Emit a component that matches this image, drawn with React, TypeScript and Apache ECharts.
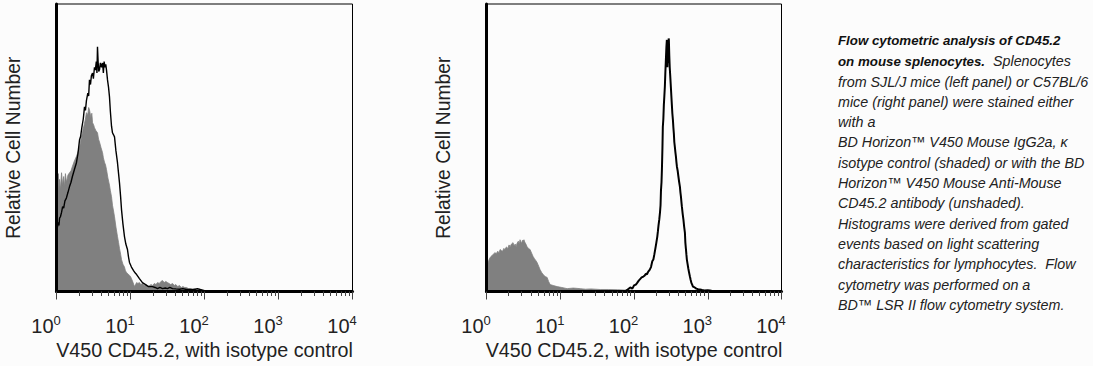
import React, { useEffect, useRef } from "react";
import * as echarts from "echarts";

// Fluorescence intensity (x) vs relative cell number (y, % of plot height)
const leftIsotype: [number, number][] = [
  [1.0, 34], [1.03, 36.5], [1.06, 41], [1.08, 36], [1.1, 39], [1.13, 35.5], [1.17, 41.3], [1.21, 37],
  [1.25, 40], [1.28, 36.5], [1.32, 41], [1.36, 38], [1.43, 40.5], [1.5, 41.3], [1.57, 42], [1.64, 43.5],
  [1.75, 45.5], [1.86, 47], [1.95, 48.5], [2.05, 50.3], [2.15, 53], [2.27, 56], [2.39, 58.5], [2.46, 60],
  [2.54, 62.2], [2.65, 61.5], [2.72, 64], [2.79, 63.2], [2.92, 60.5], [3.0, 62], [3.07, 58.7], [3.17, 58],
  [3.26, 57], [3.4, 56], [3.58, 55.2], [3.7, 53], [3.81, 52], [4.0, 50], [4.19, 48.3], [4.3, 46.5],
  [4.45, 45], [4.6, 44], [4.74, 42.4], [4.95, 39.5], [5.2, 37], [5.35, 35], [5.54, 33], [5.71, 30],
  [5.9, 28], [6.08, 26], [6.35, 22.5], [6.67, 19.1], [6.9, 17], [7.1, 15], [7.35, 13], [7.56, 11.1],
  [7.9, 9.5], [8.29, 8.5], [8.55, 7.2], [8.83, 6.6], [9.2, 6.2], [9.69, 5.6], [10.0, 5.2], [10.3, 4.5],
  [10.8, 3.2], [11.3, 1.7], [11.7, 2.4], [12.1, 3.1], [12.6, 2.8], [13.2, 3.1], [13.8, 2.4], [14.5, 2.8],
  [15.3, 2.1], [16.2, 2.4], [17.1, 1.7], [18.1, 2.1], [19.0, 2.4], [19.8, 2.1], [21.0, 2.8], [22.1, 2.4],
  [23.2, 3.1], [24.5, 2.8], [25.8, 3.5], [27.1, 3.8], [28.5, 3.1], [30.0, 3.5], [31.6, 3.1], [33.2, 2.8],
  [35.0, 2.4], [37.0, 2.8], [39.0, 2.1], [41.0, 2.4], [43.5, 1.7], [45.9, 2.1], [48.5, 1.4], [51.0, 1.7],
  [54.0, 1.4], [57.1, 1.4], [61.0, 1.0], [65.0, 1.0], [69.0, 0.7], [73.3, 1.0], [79.0, 0.7], [85.0, 0.7],
  [90.0, 0.5], [94.0, 0.5], [100, 0.3], [105, 0],
];

const leftCD45: [number, number][] = [
  [1.0, 21], [1.03, 22.5], [1.06, 24], [1.08, 23], [1.1, 25.5], [1.13, 26], [1.17, 27.5], [1.21, 29.5],
  [1.25, 29], [1.3, 31.5], [1.36, 32.5], [1.43, 34.5], [1.5, 36.5], [1.57, 38], [1.64, 40], [1.75, 42.5],
  [1.86, 44.8], [1.95, 48], [2.05, 52.8], [2.12, 54], [2.2, 57], [2.3, 60], [2.39, 64.2], [2.46, 63],
  [2.54, 66.5], [2.65, 69], [2.72, 68], [2.79, 73.6], [2.88, 72], [2.96, 75], [3.07, 76], [3.15, 74],
  [3.26, 78], [3.35, 77], [3.45, 80], [3.52, 76], [3.58, 85.1], [3.65, 80], [3.72, 76.5], [3.81, 77.1],
  [3.92, 79.5], [4.06, 78], [4.19, 79.5], [4.3, 76], [4.4, 80], [4.52, 78], [4.63, 79], [4.74, 77],
  [4.89, 73.6], [5.05, 71], [5.2, 67.7], [5.35, 62.5], [5.54, 57.5], [5.71, 55.2], [5.9, 54.5], [6.08, 53.8],
  [6.35, 49], [6.67, 44.8], [6.9, 41], [7.1, 37.8], [7.35, 33], [7.56, 28.5], [7.9, 23.5], [8.29, 19.1],
  [8.65, 16.5], [9.1, 14.6], [9.4, 12], [9.69, 10.1], [10.3, 8.5], [11.0, 7.3], [11.6, 6.4], [12.1, 5.9],
  [13.2, 4.5], [14.5, 3.1], [16.0, 2.4], [17.5, 1.7], [19.8, 1.7], [21.5, 1.4], [23.2, 1.0], [25.0, 1.4],
  [27.1, 1.0], [29.5, 1.2], [31.6, 1.0], [34.0, 1.4], [37.0, 1.0], [41.0, 0.9], [45.9, 0.8], [51.0, 1.0],
  [57.1, 0.7], [65.0, 0.7], [73.3, 0.7], [80.0, 1.0], [88.0, 0.7], [94.0, 0.5], [100, 0.3], [110, 0],
];

const rightIsotype: [number, number][] = [
  [1.0, 9.5], [1.05, 10.1], [1.1, 11.5], [1.15, 12.2], [1.22, 12.8], [1.3, 13.5], [1.36, 13.2], [1.42, 14],
  [1.48, 13.5], [1.53, 14.6], [1.6, 14.2], [1.65, 14], [1.72, 15], [1.78, 14.6], [1.86, 15.5], [1.95, 15],
  [2.02, 16.2], [2.09, 15.6], [2.18, 16.5], [2.29, 17], [2.37, 15.8], [2.45, 16.5], [2.52, 15.6], [2.6, 16.8],
  [2.7, 17.5], [2.78, 16.5], [2.85, 18], [2.93, 17.2], [3.0, 16.8], [3.07, 17.8], [3.13, 17.4], [3.22, 18],
  [3.3, 17.2], [3.42, 16.5], [3.55, 15.6], [3.7, 15], [3.9, 14.6], [4.08, 13.4], [4.28, 12.2], [4.45, 11.5],
  [4.6, 11], [4.85, 10.1], [5.1, 8.8], [5.33, 7.6], [5.6, 6.6], [5.86, 5.9], [6.25, 5.2], [6.64, 4.9],
  [6.95, 3.5], [7.29, 2.4], [8.0, 2.1], [9.08, 1.7], [10.5, 1.4], [12.4, 1.0], [15.0, 1.2], [18.6, 1.0],
  [22.0, 0.8], [26.0, 0.9], [34.8, 0.7], [45.0, 0.7], [60.0, 0.6], [75.0, 0.5], [89.0, 0.5], [105, 0.3],
  [120, 0],
];

const rightCD45: [number, number][] = [
  [1.0, 0], [75, 0], [82, 0.7], [89, 1.4], [95, 1.0], [100, 2.1], [106, 2.4], [111, 3.1], [116, 3.8],
  [120, 4.2], [127, 4.9], [134, 5.2], [140, 5.6], [145, 6.2], [150, 6.0], [156, 6.9], [163, 7.5], [170, 8.5],
  [177, 10.5], [183, 11.1], [189, 13], [195, 15], [201, 17], [207, 19.1], [211, 21], [215, 23], [220, 25],
  [225, 27.4], [229, 30], [232, 35], [236, 38], [239, 42.4], [243, 50], [246, 57.3], [250, 60], [254, 65],
  [258, 68], [262, 71.2], [266, 76], [270, 80], [275, 85], [279, 87.5], [281, 80], [283, 78], [286, 82],
  [288, 79.5], [292, 85], [295, 88], [297, 87.5], [301, 82], [305, 78], [310, 75], [316, 71.2], [321, 68],
  [326, 65], [331, 62], [337, 59.7], [342, 57], [347, 55], [352, 52], [358, 50.3], [364, 48.5], [370, 47],
  [376, 45], [382, 43.4], [391, 42], [400, 40], [410, 38], [419, 36.5], [426, 34.5], [433, 33], [440, 31],
  [446, 29.5], [457, 27], [468, 25], [479, 22.5], [490, 20.5], [497, 17], [505, 15], [513, 13], [521, 11.1],
  [533, 9.5], [545, 8], [559, 6.5], [573, 5.2], [587, 4], [600, 3], [615, 2.4], [630, 1.7], [665, 1.4],
  [700, 1.0], [740, 0.8], [783, 0.7], [840, 0.5], [900, 0.35], [1000, 0.4], [1072, 0.35], [1150, 0.2],
  [1200, 0],
];

const xAxisName = "V450 CD45.2, with isotype control";
const yAxisName = "Relative Cell Number";

const captionText = [
  "{b|Flow cytometric analysis of CD45.2}",
  "{b|on mouse splenocytes.}{i|  Splenocytes}",
  "{i|from SJL/J mice (left panel) or C57BL/6}",
  "{i|mice (right panel) were stained either}",
  "{i|with a}",
  "{i|BD Horizon™ V450 Mouse IgG2a, κ}",
  "{i|isotype control (shaded) or with the BD}",
  "{i|Horizon™ V450 Mouse Anti-Mouse}",
  "{i|CD45.2 antibody (unshaded).}",
  "{i|Histograms were derived from gated}",
  "{i|events based on light scattering}",
  "{i|characteristics for lymphocytes.  Flow}",
  "{i|cytometry was performed on a}",
  "{i|BD™ LSR II flow cytometry system.}",
];

const FONT = "'Liberation Sans', Arial, Helvetica, sans-serif";

export default function App() {
  const ref = useRef<HTMLDivElement>(null);

  useEffect(() => {
    if (!ref.current) return;
    const chart = echarts.init(ref.current, null, { renderer: "svg" });

    const mkX = (gridIndex: number) => ({
      type: "log",
      logBase: 10,
      min: 1,
      max: 10000,
      gridIndex,
      z: 10,
      name: xAxisName,
      nameLocation: "middle",
      nameGap: 48,
      nameTextStyle: { fontFamily: FONT, fontSize: 19.7, color: "#222" },
      axisLine: { show: true, onZero: false, lineStyle: { color: "#000", width: 3 } },
      axisTick: { show: true, length: 8, lineStyle: { color: "#444", width: 1 } },
      minorTick: { show: true, splitNumber: 9, length: 4.5, lineStyle: { color: "#444", width: 1 } },
      splitLine: { show: false },
      minorSplitLine: { show: false },
      axisLabel: {
        show: true,
        margin: 22,
        padding: [0, 21, 0, 0],
        formatter: (v: number) => `{b|10}{s|${Math.round(Math.log10(v))}}`,
        rich: {
          b: { fontFamily: FONT, fontSize: 20, color: "#222", lineHeight: 24 },
          s: { fontFamily: FONT, fontSize: 13, color: "#222", lineHeight: 12, verticalAlign: "top" },
        },
      },
    });

    const mkY = (gridIndex: number) => ({
      type: "value",
      min: 0,
      max: 100,
      gridIndex,
      z: 10,
      name: yAxisName,
      nameLocation: "middle",
      nameGap: 34,
      nameTextStyle: { fontFamily: FONT, fontSize: 19.3, color: "#222" },
      axisLine: { show: true, onZero: false, lineStyle: { color: "#000", width: 3 } },
      axisTick: { show: false },
      axisLabel: { show: false },
      splitLine: { show: false },
    });

    const shaded = (data: [number, number][], idx: number) => ({
      type: "line",
      xAxisIndex: idx,
      yAxisIndex: idx,
      data,
      showSymbol: false,
      symbol: "none",
      lineStyle: { color: "#808080", width: 0.8 },
      areaStyle: { color: "#808080", opacity: 1 },
      z: 2,
    });

    const outline = (data: [number, number][], idx: number, width: number) => ({
      type: "line",
      xAxisIndex: idx,
      yAxisIndex: idx,
      data,
      showSymbol: false,
      symbol: "none",
      lineStyle: { color: "#000", width },
      z: 3,
    });

    chart.setOption({
      animation: false,
      backgroundColor: "transparent",
      grid: [
        { left: 56.5, top: 4, width: 296, height: 287.5, show: true, borderColor: "#000", borderWidth: 1, containLabel: false },
        { left: 486.5, top: 4, width: 295, height: 287.5, show: true, borderColor: "#000", borderWidth: 1, containLabel: false },
      ],
      xAxis: [mkX(0), mkX(1)],
      yAxis: [mkY(0), mkY(1)],
      series: [
        shaded(leftIsotype, 0),
        outline(leftCD45, 0, 1.4),
        shaded(rightIsotype, 1),
        outline(rightCD45, 1, 2),
      ],
      graphic: [
        {
          type: "text",
          left: 838,
          top: 34.5,
          style: {
            text: captionText.join("\n"),
            fill: "#1a1a1a",
            rich: {
              b: { fontFamily: FONT, fontSize: 13.3, fontWeight: "bold", fontStyle: "italic", lineHeight: 20.3, fill: "#111" },
              i: { fontFamily: FONT, fontSize: 14.3, fontStyle: "italic", lineHeight: 20.3, fill: "#222" },
            },
          },
        },
      ],
    });

    return () => chart.dispose();
  }, []);

  return (
    <div
      ref={ref}
      style={{ position: "fixed", left: 0, top: 0, width: 1093, height: 366, background: "#fcfcfc" }}
    />
  );
}
